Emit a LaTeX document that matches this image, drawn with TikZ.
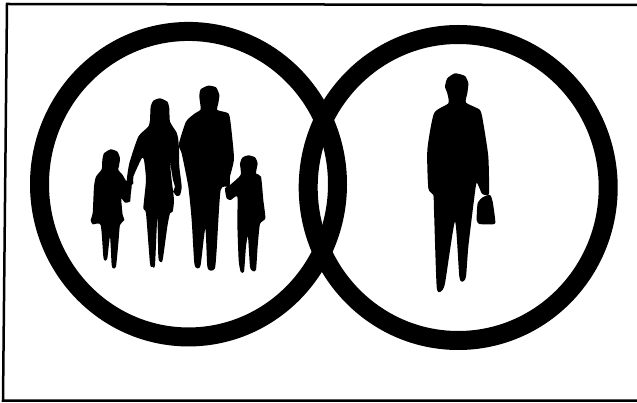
\documentclass[tikz,border=0pt]{standalone}
\usetikzlibrary{positioning,shapes.geometric}

\begin{document}
\begin{tikzpicture}[
    x=1pt, y=-1pt,
    ring/.style={ellipse, draw=black, line width=19pt, inner sep=0pt, outer sep=0pt},
    frameline/.style={draw=black, line width=2.5pt},
    figure/.style={smooth cycle, tension=0.35}
]
  \useasboundingbox (0,0) rectangle (637,403);
  \draw[frameline] (637,5) -- (7,4) -- (3,400.5) -- (637,400.5);

  \node[ring, minimum width=298pt, minimum height=305.5pt] (leftring) at (188.5,184.2) {};
  \node[ring, minimum width=300pt, minimum height=306pt] (rightring) at (458.2,187.5) {};

  % family, traced at 3x from (80,80)
  \begin{scope}[shift={(80,80)}, x=0.3333pt, y=-0.3333pt]
    \fill[black] plot[figure] coordinates {(92,208) (112,215) (120,235) (117,258) (115,270) (128,285) (138,302) (155,312) (152,345) (150,365) (135,368) (124,355) (125,375) (128,405) (133,420) (120,435) (115,490) (108,560) (100,565) (95,555) (90,470) (82,535) (75,542) (70,530) (62,435) (38,433) (32,420) (38,400) (42,320) (48,290) (65,268) (67,240) (72,220)};
    \fill[black] plot[figure] coordinates {(240,55) (262,65) (268,85) (270,125) (290,158) (295,180) (297,210) (298,260) (305,320) (300,345) (290,348) (280,335) (285,320) (279,300) (269,240) (275,300) (282,360) (278,395) (270,400) (262,440) (248,540) (240,545) (235,530) (232,410) (225,555) (217,560) (210,550) (198,400) (190,385) (198,300) (192,240) (185,235) (160,290) (160,310) (148,320) (140,305) (148,250) (175,170) (205,140) (210,120) (212,80) (220,62)};
    \fill[black] plot[figure] coordinates {(385,17) (408,22) (418,45) (415,70) (412,90) (445,100) (452,130) (462,235) (450,290) (448,320) (422,330) (410,510) (405,565) (393,572) (382,560) (376,445) (362,555) (352,565) (343,550) (335,420) (325,320) (305,220) (296,195) (318,125) (345,100) (362,88) (358,50) (362,28)};
    \fill[black] plot[figure] coordinates {(505,226) (525,232) (533,250) (528,280) (543,290) (550,360) (556,415) (540,432) (533,500) (528,570) (518,573) (510,560) (504,470) (498,500) (492,575) (482,575) (476,540) (472,430) (472,350) (452,360) (440,355) (435,325) (450,315) (482,285) (480,250) (488,232)};
  \end{scope}

  % single man with bag, traced at 3x from (410,60)
  \begin{scope}[shift={(410,60)}, x=0.3333pt, y=-0.3333pt]
    \fill[black] plot[figure] coordinates {(135,40) (165,48) (175,70) (172,100) (168,128) (210,150) (220,190) (235,290) (237,400) (225,405) (215,400) (200,368) (192,420) (175,560) (168,650) (158,665) (148,650) (135,485) (105,670) (92,695) (80,680) (72,450) (70,405) (55,385) (52,270) (72,160) (115,130) (112,100) (105,80) (112,55)};
    \fill[black] plot[figure] coordinates {(218,412) (240,405) (248,425) (256,488) (240,493) (208,492) (200,480) (203,430)};
  \end{scope}
\end{tikzpicture}
\end{document}
